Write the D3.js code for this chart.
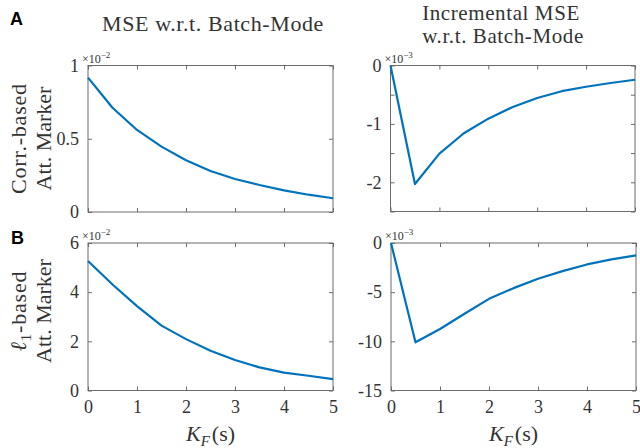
<!DOCTYPE html>
<html><head><meta charset="utf-8">
<script src="https://cdn.jsdelivr.net/npm/d3@7"></script>
<style>body{margin:0;background:#fff}svg{display:block}</style>
</head><body>
<svg id="c" width="640" height="448"></svg>
<script>
const kf = [0,0.5,1,1.5,2,2.5,3,3.5,4,4.5,5];
const corrMSE = [0.917,0.712,0.56,0.446,0.353,0.28,0.225,0.184,0.148,0.118,0.094];      // x1e-2
const corrInc = [0,-2.03,-1.51,-1.16,-0.91,-0.71,-0.557,-0.44,-0.364,-0.30,-0.244];   // x1e-3
const l1MSE   = [5.27,4.31,3.43,2.64,2.09,1.62,1.24,0.94,0.73,0.6,0.46];               // x1e-2
const l1Inc   = [0,-10.1,-8.74,-7.2,-5.68,-4.59,-3.64,-2.86,-2.18,-1.67,-1.26];        // x1e-3
const xTicks = [0,1,2,3,4,5];
const ticksTL = [0,0.5,1], labelsTL = [0,0.5,1];
const ticksTR = [-2.5,-2,-1.5,-1,-0.5,0], labelsTR = [-2,-1,0];
const ticksBL = [0,2,4,6], labelsBL = [0,2,4,6];
const ticksBR = [-15,-10,-5,0], labelsBR = [-15,-10,-5,0];

const svg = d3.select('#c');
const SERIF = '"Liberation Serif", "DejaVu Serif", serif';
const AX = '#6b6b6b', TXT = '#333';

function panel(o){
  const x = d3.scaleLinear().domain([0,5]).range([o.x0,o.x1]);
  const y = d3.scaleLinear().domain(o.dom).range([o.y1,o.y0]);
  const g = svg.append('g');
  const fmt = v => o.labels.includes(v) ? String(v) : '';
  const style = sel => {
    sel.select('.domain').remove();
    sel.selectAll('line').attr('stroke',AX);
    sel.selectAll('text').attr('fill',TXT).style('font-family',SERIF).style('font-size','18px');
  };
  g.append('g').attr('transform',`translate(${o.x0},0)`)
    .call(d3.axisLeft(y).tickValues(o.ticks).tickSize(-4).tickPadding(9).tickFormat(fmt)).call(style);
  g.append('g').attr('transform',`translate(${o.x1},0)`)
    .call(d3.axisRight(y).tickValues(o.ticks).tickSize(-4).tickFormat('')).call(style);
  g.append('g').attr('transform',`translate(0,${o.y0})`)
    .call(d3.axisTop(x).tickValues(xTicks).tickSize(-4).tickFormat('')).call(style);
  g.append('g').attr('transform',`translate(0,${o.y1})`)
    .call(d3.axisBottom(x).tickValues(xTicks).tickSize(-4).tickPadding(10).tickFormat(o.xlab ? d3.format('d') : '')).call(style);
  g.append('rect').attr('x',o.x0).attr('y',o.y0).attr('width',o.x1-o.x0).attr('height',o.y1-o.y0)
    .attr('fill','none').attr('stroke',AX).attr('stroke-width',1);
  g.append('path').datum(o.vals.map((v,i)=>[kf[i],v]))
    .attr('d', d3.line().x(d=>x(d[0])).y(d=>y(d[1])))
    .attr('fill','none').attr('stroke','#0072BD').attr('stroke-width',2.2).attr('stroke-linejoin','round');
  const t = g.append('text').attr('x',o.x0-6).attr('y',o.y0-3).attr('fill',TXT)
    .style('font-family',SERIF).style('font-size','12px');
  t.append('tspan').text('×10');
  t.append('tspan').attr('dy',-5).style('font-size','9px').text(o.exp);
  if(o.xlab){
    const xl = g.append('text').attr('x',(o.x0+o.x1)/2).attr('y',o.y1+50).attr('text-anchor','middle')
      .attr('fill',TXT).style('font-family',SERIF).style('font-size','22px');
    xl.append('tspan').style('font-style','italic').text('K');
    xl.append('tspan').attr('dy',5).style('font-style','italic').style('font-size','15px').text('F');
    xl.append('tspan').attr('dy',-5).attr('dx',2).text('(s)');
  }
}

panel({x0:88,x1:333,y0:65.5,y1:212,dom:[0,1],ticks:ticksTL,labels:labelsTL,vals:corrMSE,exp:'−2',xlab:false});
panel({x0:390.5,x1:635,y0:65.5,y1:211.5,dom:[-2.5,0],ticks:ticksTR,labels:labelsTR,vals:corrInc,exp:'−3',xlab:false});
panel({x0:88,x1:333,y0:243,y1:390.5,dom:[0,6],ticks:ticksBL,labels:labelsBL,vals:l1MSE,exp:'−2',xlab:true});
panel({x0:391,x1:636,y0:243,y1:390.5,dom:[-15,0],ticks:ticksBR,labels:labelsBR,vals:l1Inc,exp:'−3',xlab:true});

const tt = (x,y,s,fs) => svg.append('text').attr('x',x).attr('y',y).attr('text-anchor','middle')
  .attr('fill',TXT).style('font-family',SERIF).style('font-size',fs+'px').style('letter-spacing','0.6px').text(s);
tt(213,31,'MSE w.r.t. Batch-Mode',22);
tt(501,20,'Incremental MSE',21);
tt(503,43,'w.r.t. Batch-Mode',21);

function ylab(cy, line1){
  const g = svg.append('g').attr('transform',`translate(0,${cy}) rotate(-90)`);
  const a = g.append('text').attr('x',0).attr('y',26).attr('text-anchor','middle')
    .attr('fill',TXT).style('font-family',SERIF).style('font-size','22px').style('letter-spacing','0.8px');
  line1(a);
  g.append('text').attr('x',0).attr('y',51).attr('text-anchor','middle')
    .attr('fill',TXT).style('font-family',SERIF).style('font-size','22px').text('Att. Marker');
}
ylab(138.5, a => a.text('Corr.-based'));
ylab(311, a => { a.append('tspan').style('font-style','italic').text('ℓ');
  a.append('tspan').attr('dy',5).style('font-size','15px').text('1');
  a.append('tspan').attr('dy',-5).text('-based'); });

const pl = (x,y,s) => svg.append('text').attr('x',x).attr('y',y).attr('fill','#000')
  .style('font-family','"Liberation Sans", Arial, sans-serif').style('font-weight','bold').style('font-size','18px').text(s);
pl(10,25,'A');
pl(11,244,'B');
</script>
</body></html>
